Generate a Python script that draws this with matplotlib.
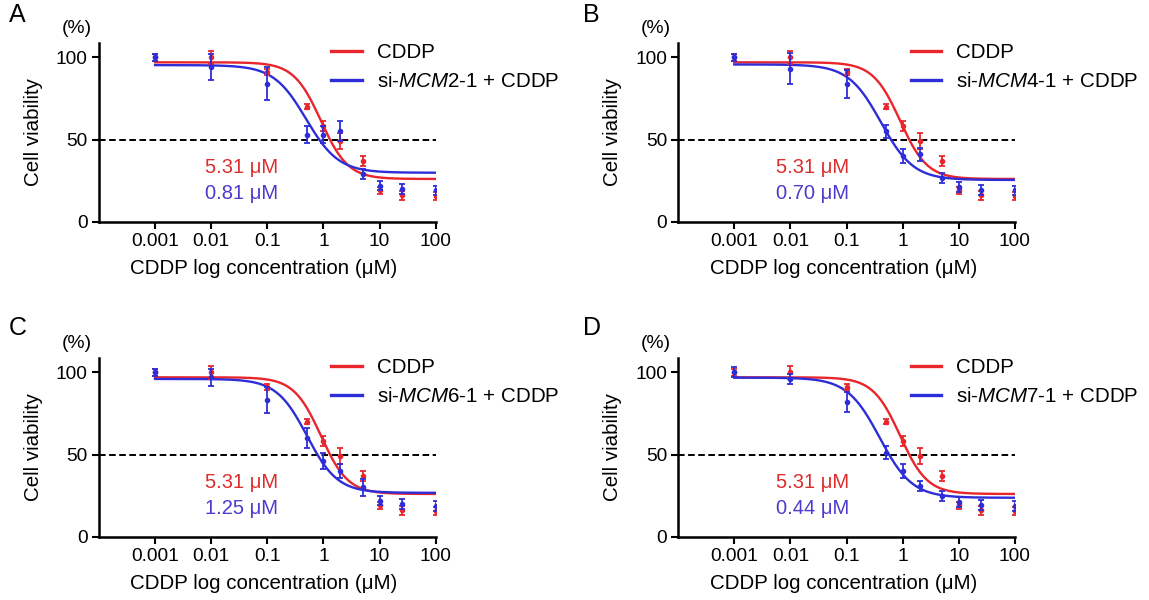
import numpy as np
import matplotlib.pyplot as plt
from matplotlib.lines import Line2D

plt.rcParams['font.family'] = ['Liberation Sans', 'DejaVu Sans']
plt.rcParams['mathtext.fontset'] = 'custom'
plt.rcParams['mathtext.rm'] = 'Liberation Sans'
plt.rcParams['mathtext.it'] = 'Liberation Sans:italic'

# concentrations (uM)
conc = [0.001, 0.01, 0.1, 0.5, 1, 2, 5, 10, 25, 100]
tick_vals = [0.001, 0.01, 0.1, 1, 10, 100]
tick_labels = ['0.001', '0.01', '0.1', '1', '10', '100']

# CDDP alone (same in all panels)
cddp_mean = [100, 100, 91, 70, 58, 49, 37, 19, 16, 15.5]
cddp_err = [2, 4, 2, 1.5, 3, 5, 3, 2, 2.5, 2.5]

# si-MCM + CDDP
mcm2_mean = [100, 94, 84, 53, 53, 55, 29, 22, 20, 19]
mcm2_err = [2, 8, 10, 5, 5, 6, 3, 3, 3, 3]
mcm4_mean = [100, 93, 84, 55, 40, 41, 26.5, 21, 19.5, 19]
mcm4_err = [2, 9.5, 8.5, 4, 4, 4, 3, 3, 3, 3]
mcm6_mean = [100, 97, 83, 60, 46, 40, 30, 22, 20, 18.5]
mcm6_err = [2, 5, 8, 6, 5, 4, 5, 3, 3, 3]
mcm7_mean = [100, 96, 82, 51, 40, 31, 25, 21, 19.5, 18.5]
mcm7_err = [3, 3, 6, 4, 4, 3, 3, 3, 3, 3]

# fitted curves: top, bottom, EC50, hill slope
cddp_fit = [97, 26, 0.9, 1.8]
mcm2_fit = [95.3, 29.8, 0.49, 1.5]
mcm4_fit = [95.7, 25.4, 0.41, 1.5]
mcm6_fit = [96.0, 26.7, 0.51, 1.6]
mcm7_fit = [96.8, 23.7, 0.39, 1.5]

panel_letters = ['A', 'B', 'C', 'D']
gene_names = ['MCM2', 'MCM4', 'MCM6', 'MCM7']
ic50_cddp = ['5.31 μM', '5.31 μM', '5.31 μM', '5.31 μM']
ic50_si = ['0.81 μM', '0.70 μM', '1.25 μM', '0.44 μM']

si_means = [mcm2_mean, mcm4_mean, mcm6_mean, mcm7_mean]
si_errs = [mcm2_err, mcm4_err, mcm6_err, mcm7_err]
si_fits = [mcm2_fit, mcm4_fit, mcm6_fit, mcm7_fit]

red = '#e8262c'
blue = '#2e2ed8'
red_txt = '#dc2d2d'
blue_txt = '#4a3ccc'


def logistic(x, top, bottom, ec50, hill):
    return bottom + (top - bottom) / (1 + (x / ec50) ** hill)


fig = plt.figure(figsize=(11.49, 6.0), dpi=100)
ax_w, ax_h = 0.2931, 0.2985
corners = [(0.0861, 0.6305), (0.5902, 0.6305), (0.0861, 0.1055), (0.5902, 0.1055)]
letter_pos = [(9, 15), (583, 15), (9, 328), (583, 328)]

xs = np.logspace(-3, 2, 300)

for i in range(4):
    ax = fig.add_axes([corners[i][0], corners[i][1], ax_w, ax_h])
    ax.set_xscale('log')

    ax.axhline(50, color='black', lw=1.4, ls=(0, (3.4, 1.8)), zorder=1)

    ax.plot(xs, logistic(xs, *cddp_fit), color=red, lw=1.7, zorder=2)
    ax.plot(xs, logistic(xs, *si_fits[i]), color=blue, lw=1.7, zorder=3)

    ax.errorbar(conc, cddp_mean, yerr=cddp_err, fmt='o', ms=3, color=red,
                ecolor=red, elinewidth=1.3, capsize=2.2, capthick=1.3, zorder=4)
    ax.errorbar(conc, si_means[i], yerr=si_errs[i], fmt='o', ms=3, color=blue,
                ecolor=blue, elinewidth=1.3, capsize=2.2, capthick=1.3, zorder=5)

    ax.set_xlim(1e-4, 100)
    ax.set_ylim(0, 109)
    ax.set_xticks(tick_vals)
    ax.set_xticklabels(tick_labels)
    ax.set_yticks([0, 50, 100])

    for s in ['top', 'right']:
        ax.spines[s].set_visible(False)
    for s in ['left', 'bottom']:
        ax.spines[s].set_linewidth(1.8)
    ax.tick_params(axis='both', which='major', direction='out', length=5,
                   width=1.5, labelsize=13.8, pad=3)
    ax.tick_params(axis='x', which='minor', direction='out', length=3, width=1.1)
    ax.tick_params(axis='y', which='minor', left=False)

    ax.set_ylabel('Cell viability', fontsize=14.8)
    ax.yaxis.set_label_coords(-0.166, 0.5)
    ax.set_xlabel('CDDP log concentration (μM)', fontsize=14.8)
    ax.xaxis.set_label_coords(0.49, -0.21)

    ax.text(-0.065, 1.077, '(%)', transform=ax.transAxes, ha='center',
            va='center', fontsize=13.9)

    handles = [Line2D([], [], color=red, lw=2.4), Line2D([], [], color=blue, lw=2.4)]
    labels = ['CDDP', 'si-$\\it{' + gene_names[i] + '}$-1 + CDDP']
    ax.legend(handles, labels, loc='upper left', bbox_to_anchor=(0.69, 0.995),
              frameon=False, fontsize=14.8, handlelength=1.5, handletextpad=0.7,
              labelspacing=0.45, borderpad=0, borderaxespad=0)

    tx = 0.424 if i % 2 == 0 else 0.40
    ax.text(tx, 0.30, ic50_cddp[i], transform=ax.transAxes, ha='center',
            va='center', fontsize=14.5, color=red_txt)
    ax.text(tx, 0.16, ic50_si[i], transform=ax.transAxes, ha='center',
            va='center', fontsize=14.5, color=blue_txt)

    fig.text(letter_pos[i][0] / 1149, 1 - letter_pos[i][1] / 600, panel_letters[i],
             fontsize=18, ha='left', va='center')

fig.savefig('out.png', dpi=100)
